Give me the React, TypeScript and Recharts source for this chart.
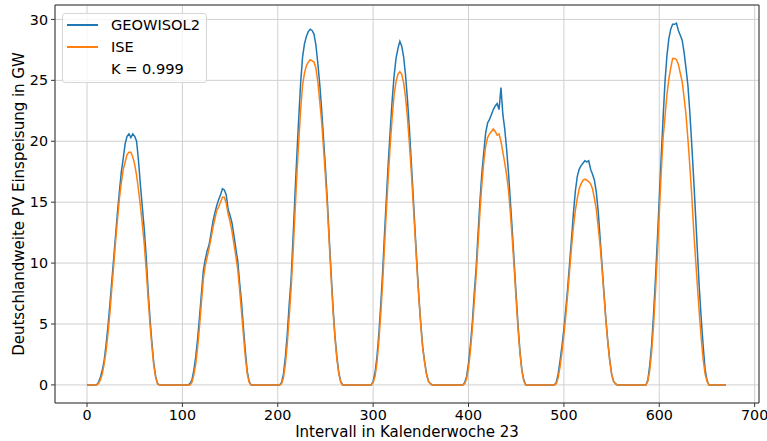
import { LineChart, Line, XAxis, YAxis, CartesianGrid, ReferenceArea } from 'recharts';

// PV feed-in, sampled every second 15-minute interval of calendar week 23 (7 days x 48 samples)
const STEP = 2;

const geowisol2 = [
  0, 0, 0, 0, 0, 0, 0.2, 0.6, 1.2, 2.0, 3.3, 4.8, 6.6, 8.5, 10.4, 12.3, 14.2, 15.9, 17.5, 18.6, 19.8, 20.4, 20.6, 20.3, 20.6, 20.4, 20.0, 18.4, 16.4, 14.6, 12.8, 10.6, 7.8, 5.5, 3.5, 1.8, 0.7, 0.1, 0, 0, 0, 0, 0, 0, 0, 0, 0, 0,
  0, 0, 0, 0, 0, 0, 0.1, 0.4, 1.2, 2.3, 3.8, 5.6, 7.5, 9.4, 10.3, 11.0, 11.5, 12.4, 13.4, 14.1, 14.7, 15.2, 15.6, 16.1, 16.0, 15.6, 14.4, 13.9, 13.3, 12.3, 11.2, 10.2, 8.4, 6.8, 4.7, 2.8, 1.1, 0.3, 0, 0, 0, 0, 0, 0, 0, 0, 0, 0,
  0, 0, 0, 0, 0, 0, 0.2, 0.9, 2.3, 4.2, 6.6, 8.7, 12.0, 15.5, 18.8, 21.9, 24.8, 26.9, 28.0, 28.6, 29.0, 29.2, 29.1, 28.8, 27.9, 26.4, 24.7, 22.6, 20.2, 17.8, 15.1, 12.0, 9.1, 6.3, 4.0, 2.3, 1.0, 0.3, 0, 0, 0, 0, 0, 0, 0, 0, 0, 0,
  0, 0, 0, 0, 0, 0, 0.3, 1.0, 2.3, 4.2, 6.6, 9.3, 12.5, 15.5, 18.4, 21.0, 23.4, 25.4, 26.8, 27.6, 28.2, 27.8, 26.9, 25.4, 23.4, 21.0, 18.3, 15.5, 12.6, 9.8, 7.2, 5.0, 3.1, 1.9, 0.9, 0.3, 0.1, 0, 0, 0, 0, 0, 0, 0, 0, 0, 0, 0,
  0, 0, 0, 0, 0, 0, 0.2, 0.7, 1.8, 3.3, 5.1, 7.5, 9.6, 12.4, 15.1, 17.4, 19.1, 20.7, 21.5, 21.8, 22.2, 22.6, 22.9, 23.1, 22.6, 24.4, 22.2, 21.0, 19.3, 17.3, 14.9, 12.5, 9.9, 7.3, 4.8, 2.7, 1.2, 0.4, 0, 0, 0, 0, 0, 0, 0, 0, 0, 0,
  0, 0, 0, 0, 0, 0, 0.2, 0.9, 2.0, 3.2, 4.6, 6.2, 8.0, 10.0, 12.0, 14.1, 15.9, 17.1, 17.7, 18.0, 18.2, 18.4, 18.3, 18.4, 17.7, 17.3, 16.8, 15.8, 14.2, 12.0, 9.8, 7.6, 5.4, 3.6, 2.1, 0.9, 0.3, 0.1, 0, 0, 0, 0, 0, 0, 0, 0, 0, 0,
  0, 0, 0, 0, 0, 0, 0.4, 1.6, 3.3, 5.8, 8.7, 11.9, 15.3, 18.7, 21.9, 24.9, 27.0, 28.4, 29.2, 29.6, 29.6, 29.7, 29.1, 28.7, 28.3, 27.3, 26.0, 24.6, 22.4, 19.8, 17.0, 14.0, 10.9, 7.9, 5.4, 3.2, 1.3, 0.4, 0, 0, 0, 0, 0, 0, 0, 0, 0, 0,
];

const ise = [
  0, 0, 0, 0, 0, 0, 0.1, 0.4, 0.9, 1.7, 2.8, 4.2, 5.9, 7.9, 9.8, 11.8, 13.6, 15.3, 16.6, 17.7, 18.3, 18.9, 19.1, 19.1, 18.7, 18.1, 17.2, 16.0, 14.7, 13.2, 11.6, 9.5, 7.2, 5.0, 3.2, 1.6, 0.6, 0.1, 0, 0, 0, 0, 0, 0, 0, 0, 0, 0,
  0, 0, 0, 0, 0, 0, 0, 0.2, 0.8, 1.7, 3.1, 4.8, 6.8, 8.7, 9.8, 10.5, 11.2, 12.0, 12.9, 13.6, 14.3, 14.6, 15.0, 15.4, 15.4, 14.9, 14.0, 13.4, 12.6, 11.6, 10.6, 9.5, 7.8, 6.0, 4.1, 2.3, 0.9, 0.2, 0, 0, 0, 0, 0, 0, 0, 0, 0, 0,
  0, 0, 0, 0, 0, 0, 0.1, 0.6, 1.7, 3.4, 5.6, 7.9, 10.8, 14.0, 17.2, 20.0, 22.6, 24.6, 25.6, 26.2, 26.5, 26.7, 26.6, 26.5, 26.0, 24.9, 23.3, 21.6, 19.4, 17.1, 14.6, 11.6, 8.7, 6.0, 3.8, 2.1, 0.9, 0.2, 0, 0, 0, 0, 0, 0, 0, 0, 0, 0,
  0, 0, 0, 0, 0, 0, 0.2, 0.7, 1.8, 3.6, 5.8, 8.4, 11.5, 14.5, 17.3, 19.8, 22.0, 23.8, 24.9, 25.5, 25.7, 25.5, 24.8, 23.6, 21.9, 19.8, 17.5, 14.9, 12.2, 9.5, 7.0, 4.8, 3.0, 1.8, 0.8, 0.3, 0.1, 0, 0, 0, 0, 0, 0, 0, 0, 0, 0, 0,
  0, 0, 0, 0, 0, 0, 0.1, 0.5, 1.4, 2.8, 4.6, 6.8, 9.0, 11.6, 14.2, 16.5, 18.3, 19.6, 20.3, 20.6, 20.8, 21.0, 20.8, 20.5, 20.6, 20.0, 19.1, 18.2, 17.2, 15.9, 14.0, 11.8, 9.4, 6.9, 4.5, 2.5, 1.1, 0.3, 0, 0, 0, 0, 0, 0, 0, 0, 0, 0,
  0, 0, 0, 0, 0, 0, 0.1, 0.6, 1.5, 2.7, 4.1, 5.7, 7.5, 9.4, 11.3, 13.0, 14.3, 15.3, 16.1, 16.5, 16.8, 16.9, 16.8, 16.7, 16.5, 16.1, 15.3, 14.4, 12.9, 11.4, 9.5, 7.4, 5.3, 3.5, 2.0, 0.9, 0.3, 0.1, 0, 0, 0, 0, 0, 0, 0, 0, 0, 0,
  0, 0, 0, 0, 0, 0, 0.3, 1.2, 2.7, 4.9, 7.6, 10.7, 14.1, 17.4, 20.3, 22.0, 23.8, 25.1, 26.0, 26.8, 26.8, 26.7, 26.3, 25.6, 24.9, 23.6, 22.2, 20.2, 18.0, 15.6, 12.8, 10.4, 8.1, 5.8, 3.8, 2.1, 0.9, 0.3, 0, 0, 0, 0, 0, 0, 0, 0, 0, 0,
];

const xTicks = [0, 100, 200, 300, 400, 500, 600, 700];
const yTicks = [0, 5, 10, 15, 20, 25, 30];
const correlationText = 'K = 0.999';

const series = [
  { key: 'geowisol2', name: 'GEOWISOL2', color: '#1f77b4' },
  { key: 'ise', name: 'ISE', color: '#ff7f0e' },
];

const data = geowisol2.map((v, k) => ({ interval: k * STEP, geowisol2: v, ise: ise[k] }));

// axis limits with 5% padding around the data, like matplotlib's autoscale
const X_DOMAIN: [number, number] = [-33.55, 704.55];
const Y_DOMAIN: [number, number] = [-1.485, 31.185];

const FONT = '"DejaVu Sans", sans-serif';
const tickStyle = { fill: '#000', fontSize: 14.3, fontFamily: FONT };

function XTitle({ viewBox }: any) {
  return (
    <text x={viewBox.x + viewBox.width / 2} y={viewBox.y + viewBox.height - 4} textAnchor="middle"
      fontSize={15} fontFamily={FONT} fill="#000">
      Intervall in Kalenderwoche 23
    </text>
  );
}

function YTitle({ viewBox }: any) {
  const cy = viewBox.y + viewBox.height / 2;
  return (
    <text x={24} y={cy} transform={`rotate(-90, 24, ${cy})`} textAnchor="middle"
      fontSize={15} fontFamily={FONT} fill="#000">
      Deutschlandweite PV Einspeisung in GW
    </text>
  );
}

function LegendBox() {
  const rows = [...series.map((s) => ({ label: s.name, color: s.color })), { label: correlationText, color: 'transparent' }];
  return (
    <div style={{
      position: 'absolute', left: 62, top: 13, width: 143, paddingBottom: 2,
      border: '1px solid #d6d6d6', borderRadius: 3, background: 'rgba(255,255,255,0.8)',
      fontFamily: FONT, fontSize: 14.6, color: '#000',
    }}>
      {rows.map((r) => (
        <div key={r.label} style={{ display: 'flex', alignItems: 'center', height: 22 }}>
          <span style={{ display: 'inline-block', width: 31, height: 1.5, background: r.color, marginLeft: 4, marginRight: 13 }} />
          <span style={{ lineHeight: '22px' }}>{r.label}</span>
        </div>
      ))}
    </div>
  );
}

export default function App() {
  return (
    <div style={{ position: 'absolute', left: 0, top: 0, width: 767, height: 441, background: '#fff' }}>
      <LineChart width={767} height={441} data={data} margin={{ top: 5, right: 8, bottom: 0, left: 0 }}>
        <CartesianGrid stroke="#d0d0d0" strokeWidth={1} />
        <XAxis dataKey="interval" type="number" domain={X_DOMAIN} ticks={xTicks} allowDataOverflow interval={0}
          height={38} tickSize={4} tickMargin={3} axisLine={false} tickLine={{ stroke: '#333' }} tick={tickStyle}
          label={<XTitle />} />
        <YAxis type="number" domain={Y_DOMAIN} ticks={yTicks} allowDataOverflow interval={0}
          width={55} tickSize={4} tickMargin={3} axisLine={false} tickLine={{ stroke: '#333' }} tick={tickStyle}
          label={<YTitle />} />
        {series.map((s) => (
          <Line key={s.key} dataKey={s.key} name={s.name} stroke={s.color} strokeWidth={1.5}
            dot={false} type="linear" isAnimationActive={false} />
        ))}
        <ReferenceArea x1={X_DOMAIN[0]} x2={X_DOMAIN[1]} y1={Y_DOMAIN[0]} y2={Y_DOMAIN[1]}
          fill="none" stroke="#333" strokeWidth={1} fillOpacity={0} />
      </LineChart>
      <LegendBox />
    </div>
  );
}
